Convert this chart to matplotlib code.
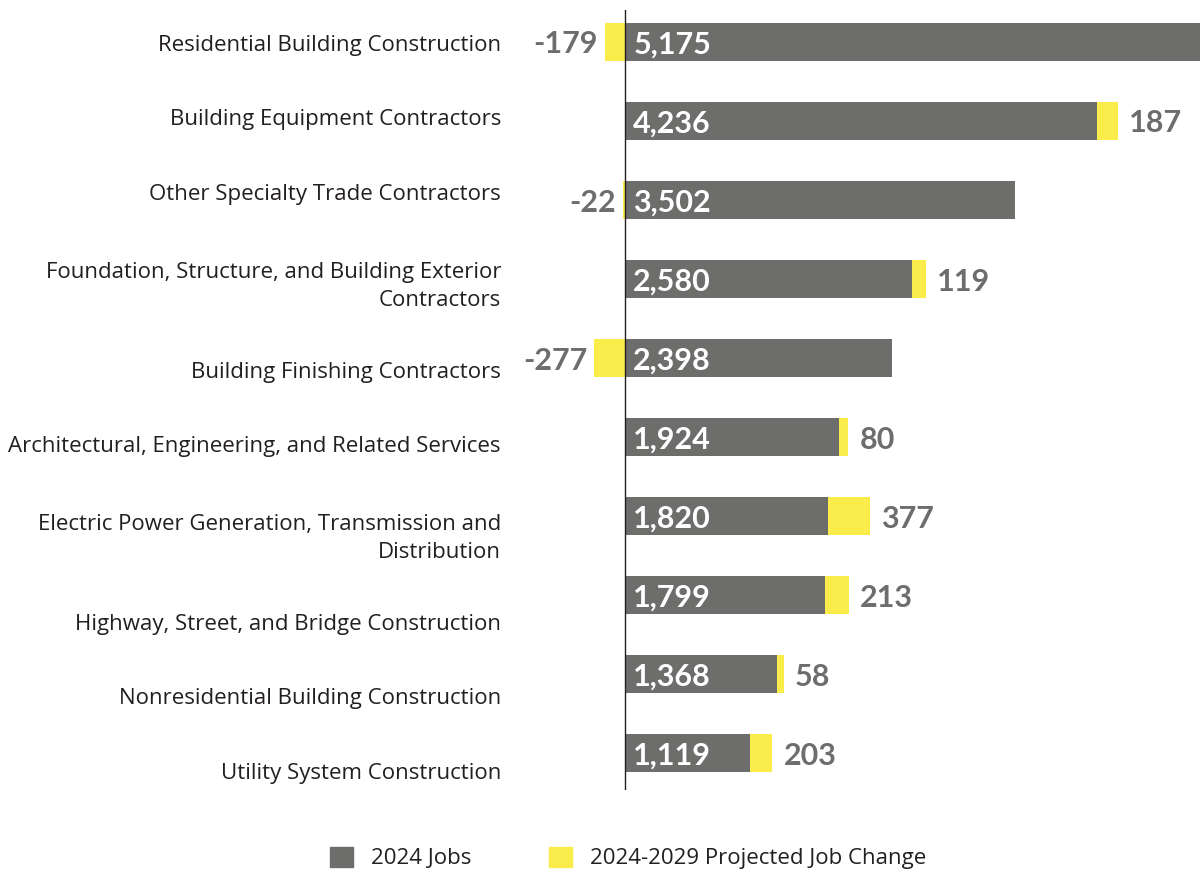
import numpy as np
import matplotlib
matplotlib.use("Agg")
import matplotlib.pyplot as plt
from matplotlib.patches import Patch

categories = [
    "Residential Building Construction",
    "Building Equipment Contractors",
    "Other Specialty Trade Contractors",
    "Foundation, Structure, and Building Exterior\nContractors",
    "Building Finishing Contractors",
    "Architectural, Engineering, and Related Services",
    "Electric Power Generation, Transmission and\nDistribution",
    "Highway, Street, and Bridge Construction",
    "Nonresidential Building Construction",
    "Utility System Construction",
]
jobs_2024 = [5175, 4236, 3502, 2580, 2398, 1924, 1820, 1799, 1368, 1119]
job_change = [-179, 187, -22, 119, -277, 80, 377, 213, 58, 203]

GRAY = "#6d6e6c"
YELLOW = "#f9ec4b"
TEXT = "#231f20"
LABEL_FONT = dict(family=["Open Sans", "DejaVu Sans"], stretch="semi-condensed",
                  weight="normal")
VALUE_FONT = dict(family=["Lato", "DejaVu Sans"], fontweight="bold", fontsize=22)

fig = plt.figure(figsize=(12, 8.73), dpi=100)
# axis line sits at x=625px, scale ~0.1114 px per job
ax = fig.add_axes([501 / 1200, 83 / 873, 699 / 1200, 780 / 873])

y = np.arange(len(categories))
jobs = np.array(jobs_2024)
change = np.array(job_change)
left_change = np.where(change > 0, jobs, 0)

ax.barh(y, jobs, height=0.49, color=GRAY)
ax.barh(y, change, left=left_change, height=0.49, color=YELLOW)

ax.set_xlim(-(625 - 501) / 0.1114, 575 / 0.1114)
ax.set_ylim(len(categories) - 1 + 0.468, -0.405)
ax.axvline(0, color=TEXT, lw=1)

for s in ax.spines.values():
    s.set_visible(False)
ax.set_xticks([])

# category labels are stacked on their own rhythm: two-line labels push the rest down
extra = np.array([c.count("\n") for c in categories])
label_px = 43 + 74.4 * y + 14.5 * (2 * np.concatenate([[0], np.cumsum(extra)[:-1]]) + extra)
ax.set_yticks((label_px - 42) / 79)
ax.set_yticklabels(categories, fontsize=16, color=TEXT, linespacing=1.4, **LABEL_FONT)
ax.tick_params(axis="y", length=0, pad=0)

for i in range(len(categories)):
    ax.annotate(f"{jobs[i]:,}", (0, i), xytext=(6, 0), textcoords="offset points",
                ha="left", va="center_baseline", color="white", **VALUE_FONT)
    if change[i] > 0:
        ax.annotate(f"{change[i]:,}", (jobs[i] + change[i], i), xytext=(8, 0),
                    textcoords="offset points", ha="left", va="center_baseline",
                    color=GRAY, **VALUE_FONT)
    else:
        ax.annotate(f"{change[i]:,}", (change[i], i), xytext=(-5, 0),
                    textcoords="offset points", ha="right", va="center_baseline",
                    color=GRAY, **VALUE_FONT)

handles = [Patch(color=GRAY, label="2024 Jobs"),
           Patch(color=YELLOW, label="2024-2029 Projected Job Change")]
fig.legend(handles=handles, loc="center", bbox_to_anchor=(628 / 1200, 1 - 858 / 873),
           ncol=2, frameon=False, handlelength=1.05, handleheight=1.05,
           handletextpad=0.8, columnspacing=3.5,
           prop={"family": LABEL_FONT["family"], "stretch": "semi-condensed",
                 "weight": "normal", "size": 16})
for t in fig.legends[0].get_texts():
    t.set_color(TEXT)

fig.savefig("out.png", dpi=100)
